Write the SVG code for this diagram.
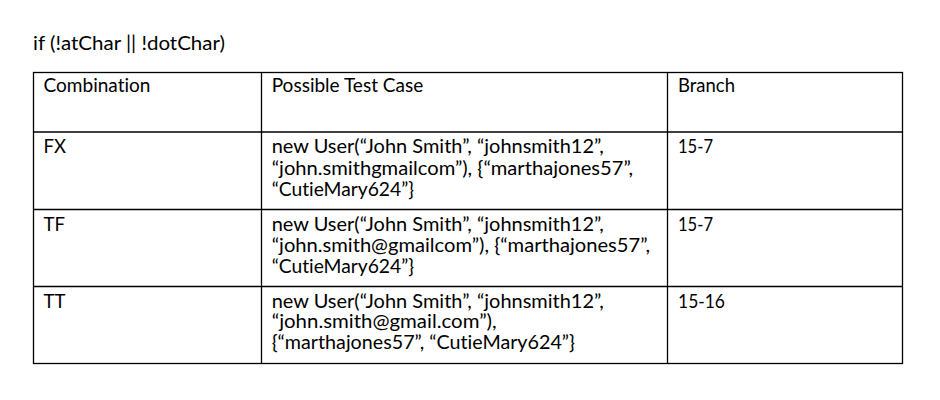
<svg xmlns="http://www.w3.org/2000/svg" width="940" height="400" viewBox="0 0 940 400">
<style>
text{font-family:Lato,"Liberation Sans",sans-serif;font-size:18.5px;fill:#000;font-variant-ligatures:none}
.ln{stroke:#000;stroke-width:1.3;fill:none}
</style>
<rect width="940" height="400" fill="#fff"/>
<text x="33" y="50" textLength="192" lengthAdjust="spacingAndGlyphs">if (!atChar || !dotChar)</text>
<g id="grid">
<rect class="ln" x="33.5" y="72.5" width="869" height="291"/>
<line class="ln" x1="261.5" y1="72.5" x2="261.5" y2="363.5"/>
<line class="ln" x1="667.5" y1="72.5" x2="667.5" y2="363.5"/>
<line class="ln" x1="33.5" y1="132" x2="902.5" y2="132"/>
<line class="ln" x1="33.5" y1="209.5" x2="902.5" y2="209.5"/>
<line class="ln" x1="33.5" y1="286.5" x2="902.5" y2="286.5"/>
</g>
<g id="header">
<text x="43.5" y="91.7" textLength="107" lengthAdjust="spacingAndGlyphs">Combination</text>
<text x="271.7" y="91.7" textLength="151.6" lengthAdjust="spacingAndGlyphs">Possible Test Case</text>
<text x="678" y="91.7" textLength="57" lengthAdjust="spacingAndGlyphs">Branch</text>
</g>
<g id="row-fx">
<text x="43.5" y="153.3">FX</text>
<text x="271.7" y="153.3" textLength="332" lengthAdjust="spacingAndGlyphs">new User(“John Smith”, “johnsmith12”,</text>
<text x="271.7" y="174.5" textLength="361.5" lengthAdjust="spacingAndGlyphs">“john.smithgmailcom”), {“marthajones57”,</text>
<text x="271.7" y="195.5" textLength="142.3" lengthAdjust="spacingAndGlyphs">“CutieMary624”}</text>
<text x="678" y="153.3" textLength="35" lengthAdjust="spacingAndGlyphs">15-7</text>
</g>
<g id="row-tf">
<text x="43.5" y="230.7">TF</text>
<text x="271.7" y="230.7" textLength="332" lengthAdjust="spacingAndGlyphs">new User(“John Smith”, “johnsmith12”,</text>
<text x="271.7" y="251.7" textLength="378.3" lengthAdjust="spacingAndGlyphs">“john.smith@gmailcom”), {“marthajones57”,</text>
<text x="271.7" y="272.7" textLength="142.3" lengthAdjust="spacingAndGlyphs">“CutieMary624”}</text>
<text x="678" y="230.7" textLength="35" lengthAdjust="spacingAndGlyphs">15-7</text>
</g>
<g id="row-tt">
<text x="43.5" y="307.7">TT</text>
<text x="271.7" y="307.7" textLength="332" lengthAdjust="spacingAndGlyphs">new User(“John Smith”, “johnsmith12”,</text>
<text x="271.7" y="328.3" textLength="225" lengthAdjust="spacingAndGlyphs">“john.smith@gmail.com”),</text>
<text x="271.7" y="349.3" textLength="303.3" lengthAdjust="spacingAndGlyphs">{“marthajones57”, “CutieMary624”}</text>
<text x="678" y="307.7" textLength="47" lengthAdjust="spacingAndGlyphs">15-16</text>
</g>
</svg>
